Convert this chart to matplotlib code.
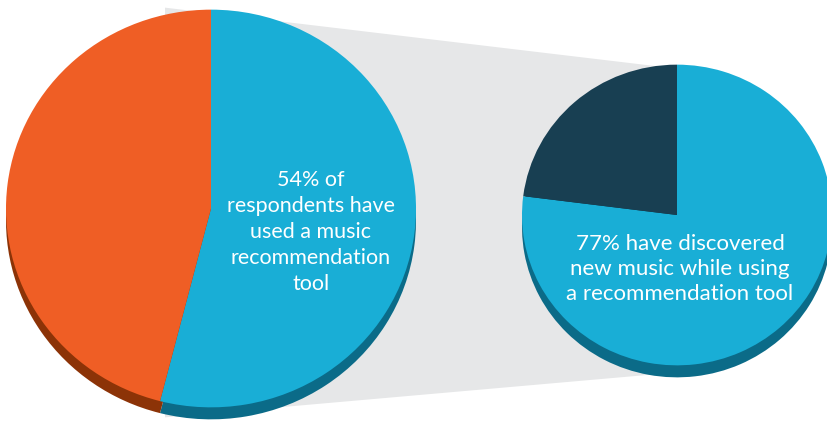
import matplotlib
matplotlib.use("Agg")
import matplotlib.pyplot as plt
from matplotlib.patches import Polygon

# ---- data ----
left_labels = ["Used a music recommendation tool", "Have not"]
left_values = [54, 46]
right_labels = ["Discovered new music", "Did not"]
right_values = [77, 23]
left_text = "54% of\nrespondents have\nused a music\nrecommendation\ntool"
right_text = "77% have discovered\nnew music while using\na recommendation tool"

# ---- styles ----
BLUE = "#19aed6"
ORANGE = "#ef5e25"
NAVY = "#183f52"
BLUE_SIDE = "#0b6b88"
ORANGE_SIDE = "#8c3307"
NAVY_SIDE = "#10303f"
GRAY = "#e6e7e8"

W, H = 827, 422
K = 0.97          # vertical squash (perspective tilt)
DEPTH = 12        # 3D thickness in px

fig = plt.figure(figsize=(W / 100, H / 100), dpi=100)
ax = fig.add_axes([0, 0, 1, 1])


def py(ypx):
    """pixel y (from top) -> data y"""
    return (H - ypx) / K


# pie geometry (pixels)
L_CX, L_CY, L_R = 211, 208.5, 205
R_CX, R_CY, R_R = 677, 215, 155

# gray connector band (behind pies), derived from pie geometry
band = Polygon(
    [
        (L_CX - 46, py(L_CY - L_R * K - 2)),
        (R_CX, py(R_CY - R_R * K + 4)),
        (R_CX, py(R_CY + R_R * K + 7)),
        (L_CX - 46, py(L_CY + L_R * K + 10)),
    ],
    closed=True, facecolor=GRAY, edgecolor="none", zorder=0,
)
ax.add_patch(band)

wp = dict(linewidth=0, antialiased=True)

# left pie: side (extrusion) then top face
ax.pie(left_values, colors=[BLUE_SIDE, ORANGE_SIDE], startangle=90,
       counterclock=False, center=(L_CX, py(L_CY) - DEPTH / K), radius=L_R,
       frame=True, wedgeprops=wp)
ax.pie(left_values, colors=[BLUE, ORANGE], startangle=90,
       counterclock=False, center=(L_CX, py(L_CY)), radius=L_R,
       frame=True, wedgeprops=wp)

# right pie
ax.pie(right_values, colors=[BLUE_SIDE, NAVY_SIDE], startangle=90,
       counterclock=False, center=(R_CX, py(R_CY) - DEPTH / K), radius=R_R,
       frame=True, wedgeprops=wp)
ax.pie(right_values, colors=[BLUE, NAVY], startangle=90,
       counterclock=False, center=(R_CX, py(R_CY)), radius=R_R,
       frame=True, wedgeprops=wp)

font = dict(family=["Lato", "DejaVu Sans"], fontweight="normal", color="white",
            ha="center", va="center")
ax.text(311, py(232), left_text, fontsize=15.5, linespacing=1.36, **font)
ax.text(680, py(269), right_text, fontsize=16, linespacing=1.3, **font)

ax.set_aspect("auto")
ax.set_xlim(0, W)
ax.set_ylim(0, H / K)
ax.axis("off")

fig.savefig("out.png", dpi=100, facecolor="white")
